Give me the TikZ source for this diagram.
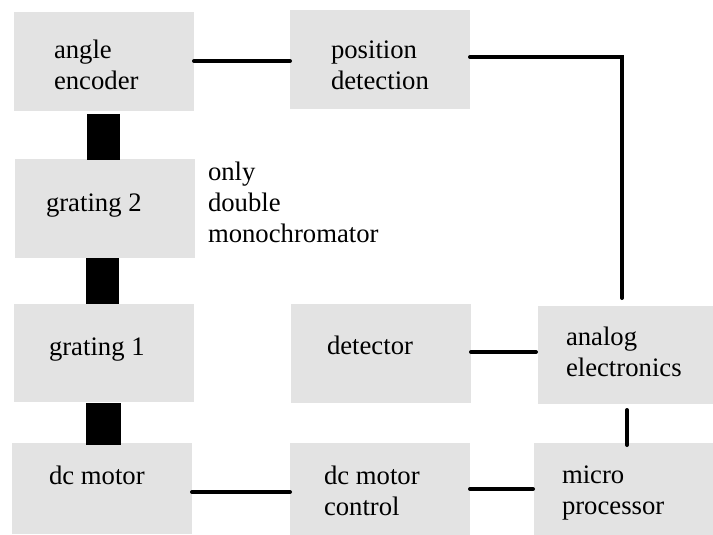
\documentclass[tikz,border=0pt]{standalone}
\usepackage{fontspec}
\setmainfont{Liberation Serif}
\definecolor{boxgray}{RGB}{227,227,227}
\newcommand{\twolines}[2]{\begin{tabular}[t]{@{}l@{}}#1\\#2\end{tabular}}
\newcommand{\threelines}[3]{\begin{tabular}[t]{@{}l@{}}#1\\#2\\#3\end{tabular}}
\begin{document}
\begin{tikzpicture}[x=1pt,y=-1pt,
  box/.style={fill=boxgray, draw=none, anchor=north west, inner sep=0pt, outer sep=0pt},
  txt/.style={anchor=base west, inner sep=0pt, outer sep=0pt, text=black,
              font=\fontsize{26.7}{31}\selectfont},
  wire/.style={line width=4pt, line cap=round, draw=black},
  bar/.style={line width=33pt, draw=black}]
\useasboundingbox (0,0) rectangle (713,535);
% boxes
\node[box, minimum width=180pt, minimum height=99pt] (ae)  at (14,12)   {};
\node[box, minimum width=180pt, minimum height=99pt] (pd)  at (290,10)  {};
\node[box, minimum width=180pt, minimum height=99pt] (g2)  at (15,159)  {};
\node[box, minimum width=180pt, minimum height=98pt] (g1)  at (14,304)  {};
\node[box, minimum width=180pt, minimum height=99pt] (det) at (291,304) {};
\node[box, minimum width=175pt, minimum height=98pt] (an)  at (538,306) {};
\node[box, minimum width=180pt, minimum height=91pt] (dm)  at (12,443)  {};
\node[box, minimum width=180pt, minimum height=92pt] (dc)  at (290,443) {};
\node[box, minimum width=179pt, minimum height=92pt] (mp)  at (534,443) {};
% texts
\node[txt] (tae)  at (54,58.3)  {\twolines{angle}{encoder}};
\node[txt] (tpd)  at (331,58.3) {\twolines{position}{detection}};
\node[txt] (tg2)  at (46,211.7) {grating 2};
\node[txt] (tonly) at (208,180.5) {\threelines{only}{double}{monochromator}};
\node[txt] (tg1)  at (49,355.7) {grating 1};
\node[txt] (tdet) at (327,354)  {detector};
\node[txt] (tan)  at (566,345)  {\twolines{analog}{electronics}};
\node[txt] (tdm)  at (49,484.5) {dc motor};
\node[txt] (tdc)  at (324,484.5) {\twolines{dc motor}{control}};
\node[txt] (tmp)  at (562,483.3) {\twolines{micro}{processor}};
% mechanical couplings
\draw[bar] ([xshift=-0.5pt,yshift=-3pt]ae.south) -- ([xshift=-0.5pt,yshift=-1pt]ae.south |- g2.north);
\draw[bar] ([xshift=-2.5pt]g2.south) -- ([xshift=-2.5pt]g2.south |- g1.north);
\draw[bar, line width=35pt] ([xshift=-0.5pt,yshift=-1pt]g1.south) -- ([xshift=-0.5pt,yshift=-2pt]g1.south |- dm.north);
% electrical connections
\draw[wire] ([yshift=0.5pt]ae.east) -- ([yshift=0.5pt]ae.east -| pd.west);
\draw[wire] ([yshift=2.5pt]pd.east) -| ([xshift=-3.5pt,yshift=8pt]an.north);
\draw[wire] ([yshift=1.5pt]det.east) -- ([yshift=1.5pt,xshift=-2pt]det.east -| an.west);
\draw[wire] ([xshift=1.5pt,yshift=-6pt]an.south) -- ([xshift=1.5pt,yshift=-2pt]an.south |- mp.north);
\draw[wire] ([yshift=-3.5pt]dm.east) -- ([yshift=-3.5pt]dm.east -| dc.west);
\draw[wire] (dc.east) -- ([xshift=-1pt]dc.east -| mp.west);
\end{tikzpicture}
\end{document}
